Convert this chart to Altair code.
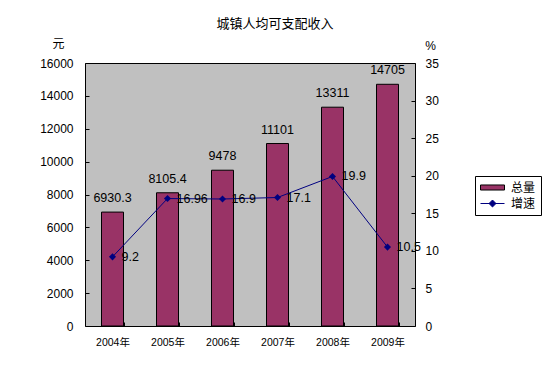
import altair as alt
import pandas as pd

years = ["2004年", "2005年", "2006年", "2007年", "2008年", "2009年"]
income = [6930.3, 8105.4, 9478, 11101, 13311, 14705]
growth = [9.2, 16.96, 16.9, 17.1, 19.9, 10.5]
series_names = ["总量", "增速"]

FONT = "Liberation Sans, Noto Sans CJK SC"

df = pd.DataFrame({
    "year": years,
    "income": income,
    "growth": growth,
    "income_label": ["{:g}".format(v) for v in income],
    "growth_label": ["{:g}".format(v) for v in growth],
})
legend_df = pd.DataFrame({"series": series_names, "year": [years[0]] * len(series_names)})

x_enc = alt.X(
    "year:N", sort=years, title=None,
    scale=alt.Scale(paddingInner=0.6, paddingOuter=0.3),
    axis=alt.Axis(
        orient="bottom", offset=-4, tickSize=4, tickBand="extent", domain=False,
        labelAngle=0, labelFontSize=10.5, labelPadding=11, labelFont=FONT,
        labelColor="black", tickColor="black",
    ),
)

y_left = alt.Y(
    "income:Q", scale=alt.Scale(domain=[0, 16000], nice=False),
    axis=alt.Axis(
        orient="left", offset=-4, tickSize=4, domain=False, values=list(range(0, 16001, 2000)),
        format="d",
        labelFontSize=12, labelPadding=12, labelFont=FONT, labelColor="black", tickColor="black",
        title="元", titleAngle=0, titleX=-31, titleY=-20, titleAlign="center",
        titleBaseline="middle", titleFontSize=12, titleFontWeight="normal", titleFont=FONT,
        titleColor="black",
    ),
)

y_right = alt.Y(
    "growth:Q", scale=alt.Scale(domain=[0, 35], nice=False),
    axis=alt.Axis(
        orient="right", offset=-4, tickSize=4, domain=False, values=list(range(0, 36, 5)),
        format="d",
        labelFontSize=12, labelPadding=10, labelFont=FONT, labelColor="black", tickColor="black",
        title="%", titleAngle=0, titleX=19, titleY=-18, titleAlign="center",
        titleBaseline="middle", titleFontSize=12, titleFontWeight="normal", titleFont=FONT,
        titleColor="black",
    ),
)

base = alt.Chart(df)

bars = base.mark_bar(color="#993366", stroke="black", strokeWidth=1).encode(x=x_enc, y=y_left)
bar_labels = base.mark_text(
    baseline="bottom", dy=-7, fontSize=12.5, font=FONT, color="black"
).encode(x=x_enc, y=y_left, text="income_label:N")
left = alt.layer(bars, bar_labels)

line = base.mark_line(color="#000080", strokeWidth=1).encode(x=x_enc, y=y_right)
pts = base.mark_point(shape="diamond", filled=True, color="#000080", size=50, opacity=1).encode(
    x=x_enc, y=y_right
)
line_labels = base.mark_text(
    align="left", baseline="middle", dx=9, fontSize=12.5, font=FONT, color="black"
).encode(x=x_enc, y=y_right, text="growth_label:N")
right = alt.layer(line, pts, line_labels)

rect_path = "M-2,-0.42H2V0.42H-2Z"
line_path = "M-2,0H2M0,-0.58L0.58,0L0,0.58L-0.58,0Z"

leg = dict(
    orient="none", legendX=390, legendY=113, title=None,
    strokeColor="black", fillColor="white", padding=5,
    symbolSize=144, symbolOffset=6, symbolOpacity=1, symbolStrokeWidth=1,
    labelFontSize=12, labelFont=FONT, labelColor="black",
    labelOffset=12, rowPadding=3, cornerRadius=0,
)

legend_layer = alt.Chart(legend_df).mark_point(filled=True, opacity=0).encode(
    x=x_enc,
    fill=alt.Fill("series:N", scale=alt.Scale(domain=series_names, range=["#993366", "#000080"]),
                  legend=alt.Legend(**leg)),
    stroke=alt.Stroke("series:N", scale=alt.Scale(domain=series_names, range=["black", "#000080"]),
                      legend=alt.Legend(**leg)),
    shape=alt.Shape("series:N", scale=alt.Scale(domain=series_names, range=[rect_path, line_path]),
                    legend=alt.Legend(**leg)),
)

chart = (
    alt.layer(left, right, legend_layer)
    .resolve_scale(y="independent")
    .properties(
        width=330, height=263, autosize="none",
        padding={"left": 77, "top": 55, "right": 128, "bottom": 30},
        title=alt.TitleParams(
            "城镇人均可支配收入", fontSize=13, fontWeight="normal", font=FONT,
            color="black", anchor="middle", frame="group", dx=25, offset=6,
        ),
    )
    .configure_view(fill="#C0C0C0", stroke="black", strokeWidth=1)
    .configure_axis(grid=False)
)

chart.save("out.html", embed_options={"renderer": "svg", "actions": False})
